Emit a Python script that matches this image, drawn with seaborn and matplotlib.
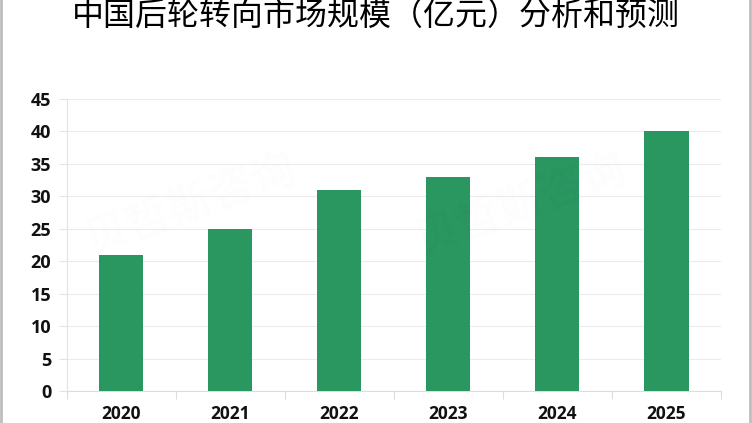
import numpy as np
import pandas as pd
import seaborn as sns
import matplotlib.pyplot as plt
from matplotlib.lines import Line2D

title = '中国后轮转向市场规模（亿元）分析和预测'
years = ['2020', '2021', '2022', '2023', '2024', '2025']
values = [21, 25, 31, 33, 36, 40]
yticks = [0, 5, 10, 15, 20, 25, 30, 35, 40, 45]
watermark = '贝哲斯咨询'

sns.set_theme(style='white')
plt.rcParams['font.family'] = ['Noto Sans CJK SC', 'DejaVu Sans']

df = pd.DataFrame({'year': years, 'value': values})

fig = plt.figure(figsize=(7.52, 4.23), dpi=100)
ax = fig.add_axes([66.5 / 752, 1 - 391 / 423, (721 - 66.5) / 752, (391 - 99) / 423])
sns.barplot(data=df, x='year', y='value', color='#2a9660', saturation=1, width=0.405,
            linewidth=0, ax=ax, zorder=3)

ax.set_xlim(-0.5, 5.5)
ax.set_ylim(0, 45)
ax.set_xlabel('')
ax.set_ylabel('')
ax.set_yticks(yticks)
ax.set_yticklabels(yticks, fontfamily='Open Sans', fontweight='bold', fontsize=13, color='#111111')
ax.set_xticks(range(len(years)))
ax.set_xticklabels(years, fontfamily='Open Sans', fontweight='bold', fontsize=12.5, color='#111111')
ax.set_xticks(np.arange(-0.5, 6), minor=True)
ax.tick_params(axis='x', which='major', length=0, pad=10)
ax.tick_params(axis='x', which='minor', length=6, color='#dddddd', width=0.8, bottom=True)
ax.tick_params(axis='y', length=6, color='#e4e4e4', width=0.8, left=True, pad=5)
ax.grid(axis='y', color='#ececec', lw=0.8, zorder=0)
ax.set_axisbelow(True)
sns.despine(ax=ax, top=True, right=True)
ax.spines['left'].set_color('#e2e2e8')
ax.spines['left'].set_linewidth(0.8)
ax.spines['bottom'].set_color('#dddddd')
ax.spines['bottom'].set_linewidth(0.8)

# faint watermark
for wx in (190 / 752, 520 / 752):
    fig.text(wx, 1 - 205 / 423, watermark, fontsize=32, color='#000000', alpha=0.012,
             rotation=20, ha='center', va='center', fontweight='bold')

fig.text(376 / 752, 1 - 16 / 423, title, fontsize=23, color='black', ha='center', va='center',
         fontweight='medium')

# grey frame on the sides
fig.add_artist(Line2D([1.5 / 752] * 2, [0, 1], color='#bdbdbd', lw=2))
fig.add_artist(Line2D([749.5 / 752] * 2, [0, 1], color='#bdbdbd', lw=2))

fig.savefig('out.png', dpi=100)
